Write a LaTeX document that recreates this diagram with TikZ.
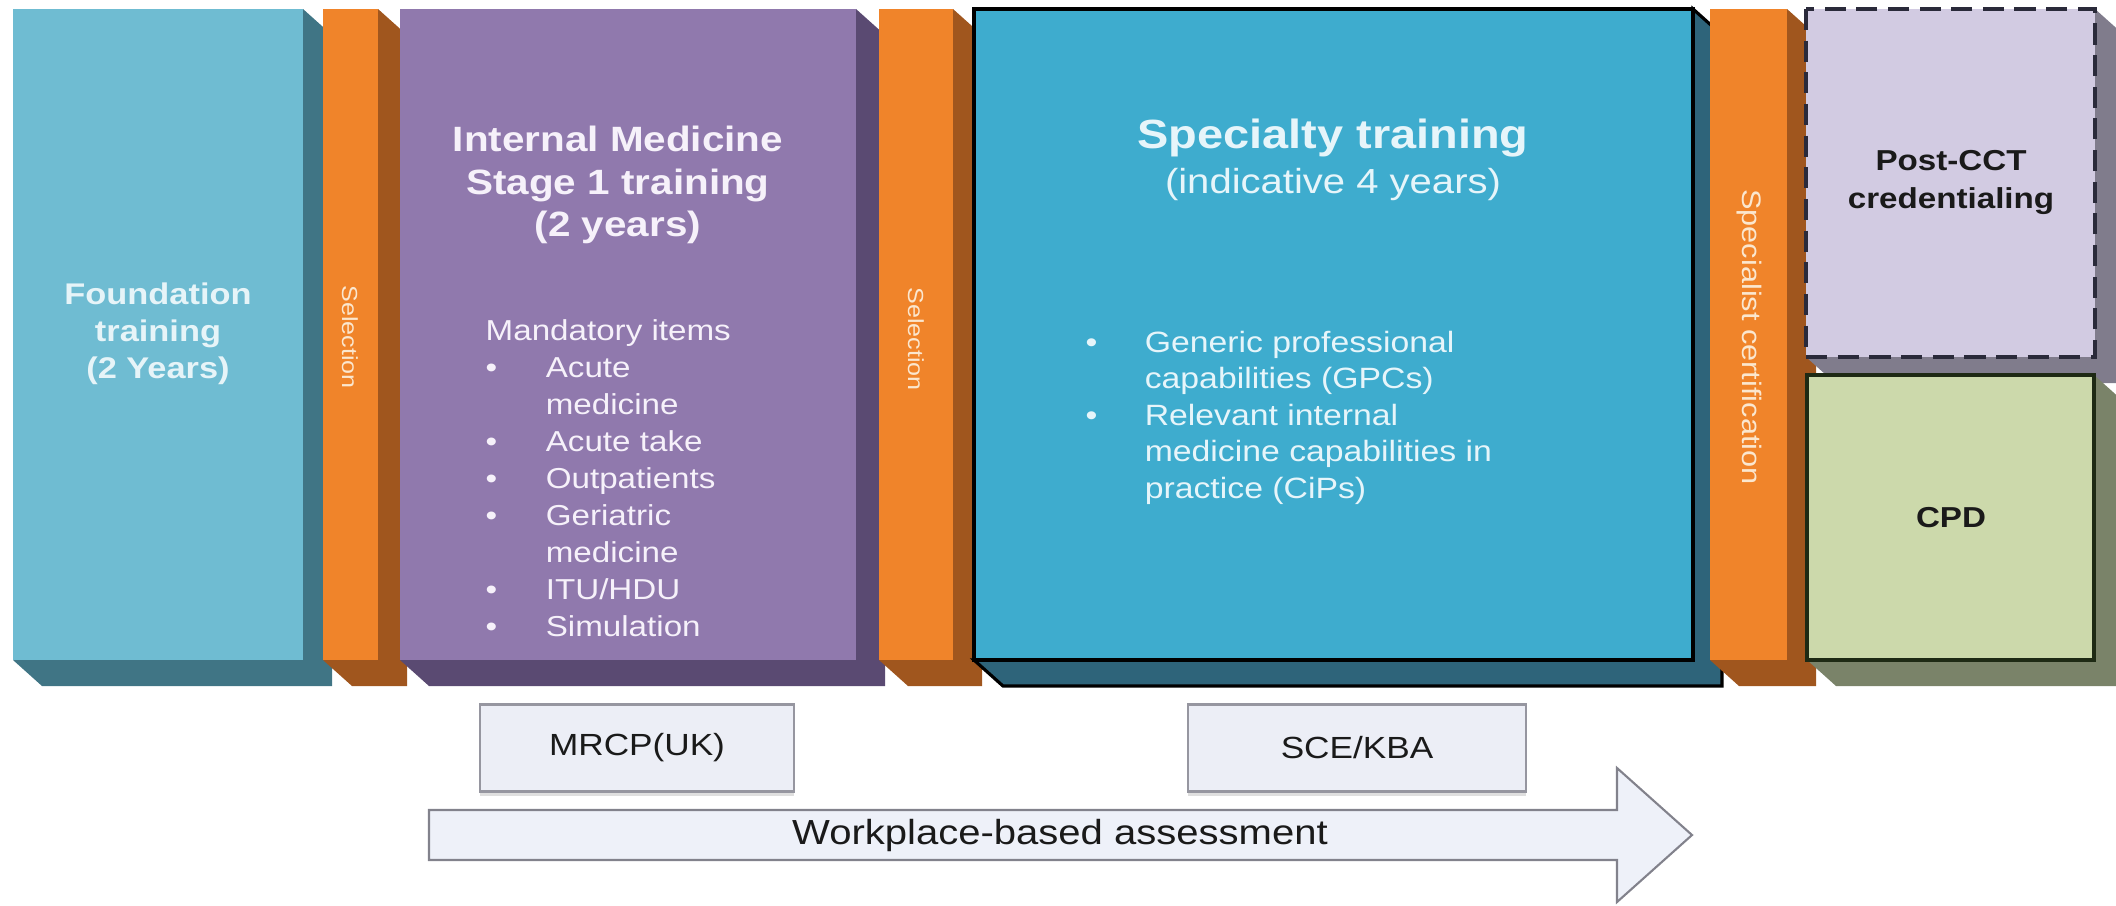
\documentclass[tikz,border=0pt]{standalone}
\usepackage{fontspec}
\setmainfont[FakeStretch=1.15]{Liberation Sans}
\usetikzlibrary{shadows}

\definecolor{foundfront}{HTML}{6FBCD2}
\definecolor{foundside}{HTML}{407585}
\definecolor{foundtext}{HTML}{E6F4F8}
\definecolor{orangefront}{HTML}{F0842A}
\definecolor{orangeside}{HTML}{A0561E}
\definecolor{selecttext}{HTML}{FBE7CF}
\definecolor{imfront}{HTML}{9079AD}
\definecolor{imside}{HTML}{5A4A72}
\definecolor{imtext}{HTML}{F6F1FA}
\definecolor{specfront}{HTML}{3EACCE}
\definecolor{specside}{HTML}{2E647A}
\definecolor{spectext}{HTML}{E6F5FA}
\definecolor{postfront}{HTML}{D2CBE2}
\definecolor{postside}{HTML}{807C8C}
\definecolor{postline}{HTML}{2A2A3A}
\definecolor{cpdfront}{HTML}{CCD9AB}
\definecolor{cpdside}{HTML}{7A8369}
\definecolor{cpdline}{HTML}{1E2A14}
\definecolor{darktext}{HTML}{1A1A1A}
\definecolor{examfill}{HTML}{ECEEF6}
\definecolor{examline}{HTML}{9696A0}
\definecolor{arrowfill}{HTML}{EEF1F9}
\definecolor{arrowline}{HTML}{82828C}

% slab with a front face and its right/bottom depth
% #1 left, #2 top, #3 right, #4 bottom, #5 front style, #6 side style
\newcommand{\slab}[6]{%
  \path[#6] (#3,#2) -- ++(29,26) -- (#3+29,#4+26) -- (#1+29,#4+26) -- (#1,#4) -- (#3,#4) -- cycle;
  \path[#5] (#1,#2) rectangle (#3,#4);
}

\tikzset{
  sidelabel/.style={rotate=-90, text=selecttext, inner sep=0},
  exam/.style={draw=examline, fill=examfill, line width=0.6pt, minimum height=0.87cm,
    inner sep=0, font=\fontsize{8.7pt}{10pt}\selectfont, text=darktext,
    drop shadow={opacity=0.25, shadow xshift=0pt, shadow yshift=-1.2pt}},
}

\begin{document}
\begin{tikzpicture}[x=0.01cm,y=-0.01cm]
\useasboundingbox (0,0) rectangle (2116,905);
\clip (0,0) rectangle (2116,905);

% blocks, left to right so each one covers the side of the one before
\slab{13}{9}{303}{660}{fill=foundfront}{fill=foundside}
\slab{323}{9}{378}{660}{fill=orangefront}{fill=orangeside}
\slab{400}{9}{856}{660}{fill=imfront}{fill=imside}
\slab{879}{9}{953}{660}{fill=orangefront}{fill=orangeside}
\slab{974}{9}{1693}{660}{fill=specfront,draw=black,line width=0.9pt}{fill=specside,draw=black,line width=0.9pt}
\slab{1710}{9}{1787}{660}{fill=orangefront}{fill=orangeside}
\slab{1806}{9}{2095}{357}{fill=postfront,draw=postline,line width=1.1pt,dash pattern=on 6pt off 3pt}{fill=postside}
\slab{1807}{375}{2094}{660}{fill=cpdfront,draw=cpdline,line width=1.1pt}{fill=cpdside}

% labels on the blocks
\node[align=center, text=foundtext, font=\bfseries\fontsize{8.5pt}{10.5pt}\selectfont] (foundlabel) at (158,334) {Foundation\\training\\(2 Years)};
\node[sidelabel, font=\fontsize{6.2pt}{8pt}\selectfont] (sel1label) at (350,337) {Selection};
\node[align=center, text=imtext, font=\bfseries\fontsize{10pt}{12pt}\selectfont] (imtitle) at (618,185) {Internal Medicine\\Stage 1 training\\(2 years)};
\node[anchor=west, inner sep=0, text=imtext, font=\fontsize{8.2pt}{10.5pt}\selectfont] (imitems) at (485,481) {%
\begin{tabular}{@{}p{17.1pt}@{}l@{}}
\multicolumn{2}{@{}l@{}}{Mandatory items}\\
\textbullet & Acute\\
 & medicine\\
\textbullet & Acute take\\
\textbullet & Outpatients\\
\textbullet & Geriatric\\
 & medicine\\
\textbullet & ITU/HDU\\
\textbullet & Simulation
\end{tabular}};
\node[sidelabel, font=\fontsize{6.2pt}{8pt}\selectfont] (sel2label) at (916,339) {Selection};
\node[anchor=base, text=spectext, font=\bfseries\fontsize{11.6pt}{14pt}\selectfont] (spectitle) at (1333,148) {Specialty training};
\node[anchor=base, text=spectext, font=\fontsize{9.9pt}{12pt}\selectfont] (specyears) at (1333,193) {(indicative 4 years)};
\node[anchor=west, inner sep=0, text=spectext, font=\fontsize{8.35pt}{10.4pt}\selectfont] (specitems) at (1085,418) {%
\begin{tabular}{@{}p{16.8pt}@{}l@{}}
\textbullet & Generic professional\\
 & capabilities (GPCs)\\
\textbullet & Relevant internal\\
 & medicine capabilities in\\
 & practice (CiPs)
\end{tabular}};
\node[sidelabel, font=\fontsize{7.6pt}{9pt}\selectfont] (certlabel) at (1749,337) {Specialist certification};
\node[align=center, text=darktext, font=\bfseries\fontsize{8.2pt}{10.8pt}\selectfont] (postlabel) at (1951,182) {Post-CCT\\credentialing};
\node[text=darktext, font=\bfseries\fontsize{8.2pt}{10pt}\selectfont] (cpdlabel) at (1951,518) {CPD};

% exams
\node[exam, minimum width=3.14cm] (mrcp) at (637,748) {MRCP(UK)};
\node[exam, minimum width=3.38cm] (sce) at (1357,748) {SCE/KBA};

% assessment arrow along the bottom
\draw[draw=arrowline, fill=arrowfill, line width=0.6pt] (429,810) -- (1617,810) -- (1617,768) -- (1692,835) -- (1617,902) -- (1617,860) -- (429,860) -- cycle;
\node[text=darktext, font=\fontsize{9.9pt}{12pt}\selectfont] (wba) at (1060,835) {Workplace-based assessment};
\end{tikzpicture}
\end{document}
